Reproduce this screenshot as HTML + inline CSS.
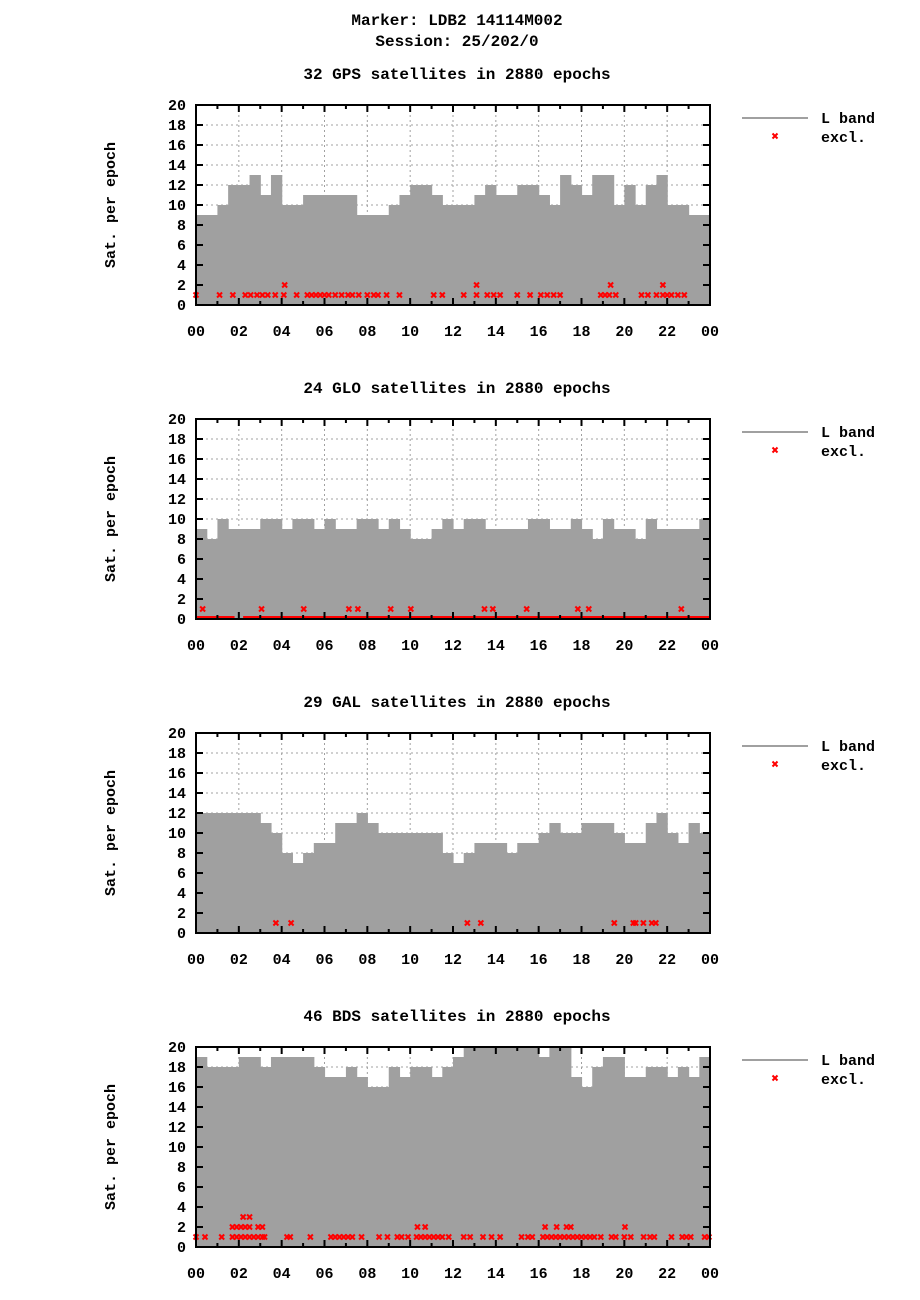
<!DOCTYPE html>
<html><head><meta charset="utf-8">
<style>
html,body{margin:0;padding:0;background:#fff;}
svg{display:block;font-family:"Liberation Mono",monospace;font-weight:bold;}
</style></head>
<body>
<svg id="chart" width="920" height="1300" viewBox="0 0 920 1300" xmlns="http://www.w3.org/2000/svg">
<text x="457" y="25" text-anchor="middle" font-size="16">Marker: LDB2 14114M002</text>
<text x="457" y="46" text-anchor="middle" font-size="16">Session: 25/202/0</text>
</svg>
<script>
// Half-hour bin values (48 per system)
const gpsValues = [9,9,10,12,12,13,11,13,10,10,11,11,11,11,11,9,9,9,10,11,12,12,11,10,10,10,11,12,11,11,12,12,11,10,13,12,11,13,13,10,12,10,12,13,10,10,9,9];
const gloValues = [9,8,10,9,9,9,10,10,9,10,10,9,10,9,9,10,10,9,10,9,8,8,9,10,9,10,10,9,9,9,9,10,10,9,9,10,9,8,10,9,9,8,10,9,9,9,9,10];
const galValues = [12,12,12,12,12,12,11,10,8,7,8,9,9,11,11,12,11,10,10,10,10,10,10,8,7,8,9,9,9,8,9,9,10,11,10,10,11,11,11,10,9,9,11,12,10,9,11,10];
const bdsValues = [19,18,18,18,19,19,18,19,19,19,19,18,17,17,18,17,16,16,18,17,18,18,17,18,19,20,20,20,20,20,20,20,19,20,20,17,16,18,19,19,17,17,18,18,17,18,17,19];
// Excluded markers: hour positions per level
const gpsExcl1 = [0,1.1,1.72,2.3,2.55,2.85,3.1,3.35,3.7,4.1,4.7,5.2,5.4,5.6,5.8,6.0,6.2,6.5,6.8,7.1,7.3,7.6,8.0,8.3,8.5,8.9,9.5,11.1,11.5,12.5,13.1,13.6,13.9,14.2,15.0,15.6,16.1,16.4,16.7,17.0,18.9,19.1,19.3,19.6,20.8,21.1,21.5,21.8,22.0,22.2,22.5,22.8];
const gpsExcl2 = [4.14,13.1,19.36,21.8];
const gloExcl1 = [0.31,3.06,5.03,7.14,7.56,9.09,10.03,13.47,13.86,15.44,17.83,18.34,22.66];
const gloExcl0Ranges = [[0,1.8],[2.2,24]];
const galExcl1 = [3.73,4.44,12.67,13.3,19.53,20.42,20.53,20.89,21.28,21.47];
const bdsExcl1 = [0,0.42,1.2,1.7,1.9,2.1,2.3,2.5,2.7,2.9,3.1,3.2,4.25,4.4,5.34,6.3,6.5,6.7,6.9,7.1,7.3,7.73,8.55,8.94,9.4,9.6,9.9,10.3,10.5,10.7,10.9,11.1,11.3,11.5,11.8,12.5,12.8,13.4,13.8,14.2,15.2,15.5,15.7,16.2,16.4,16.6,16.8,17.0,17.2,17.4,17.6,17.8,18.0,18.2,18.4,18.6,18.9,19.4,19.6,20.0,20.3,20.9,21.2,21.4,22.2,22.7,22.9,23.1,23.75,23.95];
const bdsExcl2 = [1.7,1.9,2.1,2.3,2.5,2.9,3.1,10.34,10.7,16.3,16.84,17.3,17.5,20.03];
const bdsExcl3 = [2.2,2.5];
const yTicks = [0,2,4,6,8,10,12,14,16,18,20];
const xTickLabels = ["00","02","04","06","08","10","12","14","16","18","20","22","00"];
const titles = ["32 GPS satellites in 2880 epochs","24 GLO satellites in 2880 epochs","29 GAL satellites in 2880 epochs","46 BDS satellites in 2880 epochs"];

const NS="http://www.w3.org/2000/svg";
const svg=document.getElementById('chart');
const X0=196,X1=710;
function mk(tag,attrs,parent){const e=document.createElementNS(NS,tag);for(const k in attrs)e.setAttribute(k,attrs[k]);(parent||svg).appendChild(e);return e;}

const panels=[
 {top:105,vals:gpsValues,ex:[[gpsExcl1,1],[gpsExcl2,2]],ranges:[],key:'gps'},
 {top:419,vals:gloValues,ex:[[gloExcl1,1]],ranges:gloExcl0Ranges,key:'glo'},
 {top:733,vals:galValues,ex:[[galExcl1,1]],ranges:[],key:'gal'},
 {top:1047,vals:bdsValues,ex:[[bdsExcl1,1],[bdsExcl2,2],[bdsExcl3,3]],ranges:[],key:'bds'}
];
panels.forEach((p,pi)=>{
 const top=p.top,bot=top+200;
 const xs=h=>X0+(X1-X0)*h/24;
 const ys=v=>bot-(bot-top)*v/20;
 const g=mk('g',{});
 
 
 const t=mk('text',{x:457,y:top-26,'text-anchor':'middle','font-size':16},g);
 t.textContent=titles[pi];
 
 
 // grid
 for(let h=2;h<24;h+=2){const l=mk('line',{x1:xs(h),x2:xs(h),y1:top,y2:bot,stroke:'#a0a0a0','stroke-width':1,'stroke-dasharray':'2,3'},g);
  
  }
 yTicks.forEach(v=>{if(v>0&&v<20){const l=mk('line',{x1:X0,x2:X1,y1:ys(v),y2:ys(v),stroke:'#a0a0a0','stroke-width':1,'stroke-dasharray':'2,3'},g);
  
  }});
 // bars
 const n=p.vals.length;
 p.vals.forEach((v,i)=>{const r=mk('rect',{x:xs(24*i/n),y:ys(v),width:xs(24*(i+1)/n)-xs(24*i/n)+0.6,height:bot-ys(v),fill:'#a0a0a0'},g);
  
  });
 // zero ranges
 p.ranges.forEach(rg=>{const l=mk('line',{x1:xs(rg[0]),x2:xs(rg[1]),y1:bot-1,y2:bot-1,stroke:'#ff0000','stroke-width':4},g);
  
  });
 // markers
 p.ex.forEach(([arr,lv])=>{arr.forEach(h=>{const cx=xs(h),cy=ys(lv);
  const m=mk('path',{d:`M${cx-2.5},${cy-2.5}L${cx+2.5},${cy+2.5}M${cx-2.5},${cy+2.5}L${cx+2.5},${cy-2.5}`,stroke:'#ff0000','stroke-width':2},g);
  
  });});
 // frame
 const fr=mk('rect',{x:X0,y:top,width:X1-X0,height:200,fill:'none',stroke:'#000','stroke-width':2},g);
 
 
 // y ticks
 yTicks.forEach(v=>{mk('line',{x1:X0,x2:X0+7,y1:ys(v),y2:ys(v),stroke:'#000','stroke-width':2},g);
  mk('line',{x1:X1-7,x2:X1,y1:ys(v),y2:ys(v),stroke:'#000','stroke-width':2},g);
  const tl=mk('text',{x:186,y:ys(v)+5,'text-anchor':'end','font-size':15},g);
  tl.textContent=v;
  
  });
 for(let h=0;h<=24;h++){const len=h%2==0?7:4;
  mk('line',{x1:xs(h),x2:xs(h),y1:bot,y2:bot-len,stroke:'#000','stroke-width':2},g);
  mk('line',{x1:xs(h),x2:xs(h),y1:top,y2:top+len,stroke:'#000','stroke-width':2},g);}
 xTickLabels.forEach((s,i)=>{const tl=mk('text',{x:xs(i*2),y:bot+31,'text-anchor':'middle','font-size':15},g);
  tl.textContent=s;
  
  });
 const yt=mk('text',{x:0,y:0,'text-anchor':'middle','font-size':15,transform:`translate(115,${top+100}) rotate(-90)`},g);
 yt.textContent='Sat. per epoch';
 
 
 // legend
 const lg=mk('g',{},g);
 
 
 mk('line',{x1:742,x2:808,y1:top+13,y2:top+13,stroke:'#a0a0a0','stroke-width':2},lg);
 const l1=mk('text',{x:821,y:top+18,'font-size':15},lg);l1.textContent='L band';
 const cx=775,cy=top+31;
 mk('path',{d:`M${cx-2.5},${cy-2.5}L${cx+2.5},${cy+2.5}M${cx-2.5},${cy+2.5}L${cx+2.5},${cy-2.5}`,stroke:'#ff0000','stroke-width':2},lg);
 const l2=mk('text',{x:821,y:top+37,'font-size':15},lg);l2.textContent='excl.';
});
</script>
</body></html>
